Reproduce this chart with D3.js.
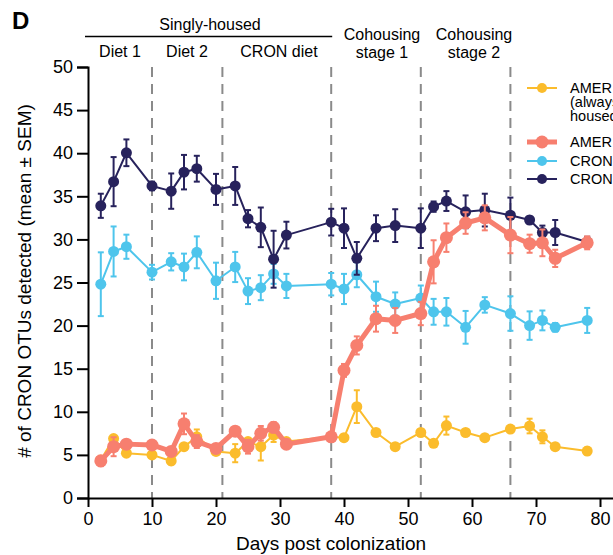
<!DOCTYPE html>
<html>
<head>
<meta charset="utf-8">
<script src="https://cdn.jsdelivr.net/npm/d3@7"></script>
<style>
  body { margin: 0; background: #fff; }
  svg { display: block; font-family: Arial, "Liberation Sans", sans-serif; }
</style>
</head>
<body>
<div class="chart"></div>
<script>
// Sampling days (shared by all groups)
var days = [2, 4, 6, 10, 13, 15, 17, 20, 23, 25, 27, 29, 31, 38, 40, 42, 45, 48, 52, 54, 56, 59, 62, 66, 69, 71, 73, 78];

// Mean number of CRON OTUs detected, per group
var amerSingleMean = [4.4, 6.9, 5.2, 5.0, 4.3, 5.95, 7.1, 5.4, 5.2, 6.55, 5.95, 7.3, 6.55, 7.1, 7.0, 10.6, 7.6, 5.95, 7.6, 6.35, 8.4, 7.6, 7.0, 8.0, 8.35, 7.1, 5.95, 5.45];
var amerSingleSem  = [0.3, 0.3, 0.3, 0.3, 0.4, 0.3, 0.85, 0.3, 1.05, 0.4, 1.6, 0.8, 0.3, 0.3, 0.3, 1.9, 0.3, 0.3, 0.3, 0.3, 1.05, 0.3, 0.3, 0.3, 0.85, 0.75, 0.3, 0.4];

var amerCoMean = [4.3, 5.95, 6.25, 6.15, 5.4, 8.6, 6.55, 5.75, 7.75, 5.95, 7.5, 8.2, 6.25, 7.1, 14.8, 17.7, 20.8, 20.6, 21.4, 27.4, 30.2, 31.9, 32.5, 30.5, 29.5, 29.6, 27.8, 29.6];
var amerCoSem  = [0.6, 1.1, 0.3, 0.3, 0.4, 1.2, 0.75, 0.4, 0.4, 0.8, 0.85, 0.6, 0.3, 0.3, 0.75, 1.05, 1.5, 1.45, 1.35, 2.5, 1.65, 1.25, 1.45, 2.1, 1.05, 1.55, 1.0, 0.75];

var cronCoMean = [24.8, 28.6, 29.15, 26.2, 27.4, 26.8, 28.5, 25.2, 26.8, 24.0, 24.4, 26.0, 24.6, 24.8, 24.25, 25.9, 23.35, 22.5, 23.2, 21.6, 21.6, 19.8, 22.4, 21.4, 20.0, 20.6, 19.8, 20.6];
var cronCoSem  = [3.7, 2.9, 1.4, 0.85, 1.0, 1.55, 1.85, 2.1, 1.75, 1.5, 1.45, 1.15, 1.4, 1.3, 1.75, 1.45, 1.75, 1.35, 1.45, 1.5, 1.6, 1.9, 0.9, 2.0, 1.65, 1.15, 0.5, 1.45];

var cronSingleMean = [33.9, 36.7, 40.05, 36.2, 35.6, 37.8, 38.2, 35.8, 36.2, 32.4, 31.4, 27.7, 30.5, 32.0, 31.3, 27.8, 31.3, 31.6, 31.3, 33.8, 34.45, 33.2, 33.4, 32.8, 32.25, 30.8, 30.8, 29.7];
var cronSingleSem  = [1.4, 2.85, 1.55, 0.5, 2.05, 2.0, 1.5, 1.8, 2.2, 1.0, 2.3, 3.3, 1.55, 1.55, 2.3, 1.9, 1.5, 1.9, 2.3, 0.6, 1.15, 1.9, 1.9, 2.05, 0.4, 0.8, 1.45, 0.6];

// Group labels and colours
var groupNames = ["AMER mice", "AMER mice cohoused", "CRON mice cohoused", "CRON mice singly housed"];
var groupColors = ["#fbbc2c", "#f77f6f", "#4ec5ec", "#27225c"];

// Experimental phases (vertical dashed boundaries and header labels)
var phaseBounds = [10, 21, 38, 52, 66];
var dietLabels = ["Diet 1", "Diet 2", "CRON diet"];
var dietCenters = [120, 187, 279];
var cohouseLabels = [["Cohousing", "stage 1"], ["Cohousing", "stage 2"]];
var cohouseCenters = [382, 474];

var yTicks = [0, 5, 10, 15, 20, 25, 30, 35, 40, 45, 50];
var xTicks = [0, 10, 20, 30, 40, 50, 60, 70, 80];

//Canvas dimensions and margins
var width = 613,
    height = 555;

var margin = {
    top: 67,
    bottom: 57,
    left: 88,
    right: 0,
}

var svg = d3.select(".chart")
            .append("svg")
            .attr("width", width)
            .attr("height", height);

var x = d3.scaleLinear().domain([0, 82]).range([margin.left, margin.left + 82 * 6.4]);
var y = d3.scaleLinear().domain([0, 50]).range([height - margin.bottom, margin.top]);

//Panel letter
svg.append("text")
   .attr("x", 12).attr("y", 29)
   .attr("font-size", 24).attr("font-weight", "bold")
   .text("D");

//Header labels
svg.append("text")
   .attr("x", 210).attr("y", 30)
   .attr("text-anchor", "middle").attr("font-size", 16)
   .text("Singly-housed");

svg.append("line")
   .attr("x1", 85).attr("x2", x(38) + 1)
   .attr("y1", 36.5).attr("y2", 36.5)
   .attr("stroke", "#000").attr("stroke-width", 1.5);

svg.selectAll(".dietLabel")
   .data(dietLabels)
   .enter()
   .append("text")
   .attr("class", "dietLabel")
   .attr("x", function(d, i) { return dietCenters[i]; })
   .attr("y", 57)
   .attr("text-anchor", "middle").attr("font-size", 16)
   .text(function(d) { return d; });

cohouseLabels.forEach(function(lines, i) {
  lines.forEach(function(t, j) {
    svg.append("text")
       .attr("x", cohouseCenters[i])
       .attr("y", 40 + j * 18)
       .attr("text-anchor", "middle").attr("font-size", 16)
       .text(t);
  });
});

//Dashed phase boundaries
svg.selectAll(".phase")
   .data(phaseBounds)
   .enter()
   .append("line")
   .attr("class", "phase")
   .attr("x1", function(d) { return x(d); })
   .attr("x2", function(d) { return x(d); })
   .attr("y1", y(50))
   .attr("y2", y(0))
   .attr("stroke", "#8a8a8a")
   .attr("stroke-width", 2)
   .attr("stroke-dasharray", "10,7");

//Axes
var xAxis = svg.append("g")
   .attr("transform", "translate(0," + y(0) + ")")
   .call(d3.axisBottom(x).tickValues(xTicks).tickSize(9).tickSizeOuter(0).tickPadding(5));

var yAxis = svg.append("g")
   .attr("transform", "translate(" + margin.left + ",0)")
   .call(d3.axisLeft(y).tickValues(yTicks).tickSize(11).tickPadding(4));

[xAxis, yAxis].forEach(function(a) {
  a.select(".domain").attr("stroke-width", 2);
  a.selectAll(".tick line").attr("stroke-width", 2);
  a.selectAll(".tick text").attr("font-size", 18).attr("font-family", "Arial, 'Liberation Sans', sans-serif").attr("fill", "#000");
});

//Axis titles
svg.append("text")
   .attr("x", 331).attr("y", 550)
   .attr("text-anchor", "middle").attr("font-size", 19)
   .text("Days post colonization");

svg.append("text")
   .attr("transform", "translate(31,281) rotate(-90)")
   .attr("text-anchor", "middle").attr("font-size", 19)
   .text("# of CRON OTUs detected (mean \u00b1 SEM)");

//Series, drawn in back-to-front order
var series = [
  { name: groupNames[0], mean: amerSingleMean, sem: amerSingleSem, color: groupColors[0], lw: 2, r: 5.5 },
  { name: groupNames[2], mean: cronCoMean, sem: cronCoSem, color: groupColors[2], lw: 2, r: 5.5 },
  { name: groupNames[3], mean: cronSingleMean, sem: cronSingleSem, color: groupColors[3], lw: 2, r: 5.5 },
  { name: groupNames[1], mean: amerCoMean, sem: amerCoSem, color: groupColors[1], lw: 5, r: 6.5 }
];

var line = d3.line()
             .x(function(d) { return x(d.day); })
             .y(function(d) { return y(d.mean); });

series.forEach(function(s) {
  var pts = days.map(function(d, i) { return { day: d, mean: s.mean[i], sem: s.sem[i] }; });
  var g = svg.append("g");

  //Error bars
  var eb = g.selectAll(".err")
            .data(pts)
            .enter()
            .append("g")
            .attr("stroke", s.color)
            .attr("stroke-width", 2);
  eb.append("line")
    .attr("x1", function(d) { return x(d.day); })
    .attr("x2", function(d) { return x(d.day); })
    .attr("y1", function(d) { return y(d.mean + d.sem); })
    .attr("y2", function(d) { return y(d.mean - d.sem); });
  eb.append("line")
    .attr("x1", function(d) { return x(d.day) - 3; })
    .attr("x2", function(d) { return x(d.day) + 3; })
    .attr("y1", function(d) { return y(d.mean + d.sem); })
    .attr("y2", function(d) { return y(d.mean + d.sem); });
  eb.append("line")
    .attr("x1", function(d) { return x(d.day) - 3; })
    .attr("x2", function(d) { return x(d.day) + 3; })
    .attr("y1", function(d) { return y(d.mean - d.sem); })
    .attr("y2", function(d) { return y(d.mean - d.sem); });

  g.append("path")
   .datum(pts)
   .attr("fill", "none")
   .attr("stroke", s.color)
   .attr("stroke-width", s.lw)
   .attr("stroke-linejoin", "round")
   .attr("d", line);

  g.selectAll(".pt")
   .data(pts)
   .enter()
   .append("circle")
   .attr("cx", function(d) { return x(d.day); })
   .attr("cy", function(d) { return y(d.mean); })
   .attr("r", s.r)
   .attr("fill", s.color);
});

//Legend
var legendRows = [
  { lines: ["AMER mice", "(always singly", "housed)"], color: groupColors[0], lw: 2, r: 5, y: 88 },
  { lines: ["AMER mice cohoused"], color: groupColors[1], lw: 5, r: 6.5, y: 142 },
  { lines: ["CRON mice cohoused"], color: groupColors[2], lw: 2, r: 5, y: 161 },
  { lines: ["CRON mice (always singly housed)"], color: groupColors[3], lw: 2, r: 5, y: 179 }
];

var legend = svg.selectAll(".legend")
                .data(legendRows)
                .enter()
                .append("g")
                .attr("class", "legend")
                .attr("transform", function(d) { return "translate(0," + d.y + ")"; });

legend.append("line")
      .attr("x1", 527).attr("x2", 557)
      .attr("stroke", function(d) { return d.color; })
      .attr("stroke-width", function(d) { return d.lw; });

legend.append("circle")
      .attr("cx", 542)
      .attr("r", function(d) { return d.r; })
      .attr("fill", function(d) { return d.color; });

legend.each(function(d) {
  var row = d3.select(this);
  d.lines.forEach(function(l, j) {
    row.append("text")
       .attr("x", 570)
       .attr("y", 5 + j * 14)
       .attr("font-size", 14.5)
       .text(l);
  });
});
</script>
</body>
</html>
